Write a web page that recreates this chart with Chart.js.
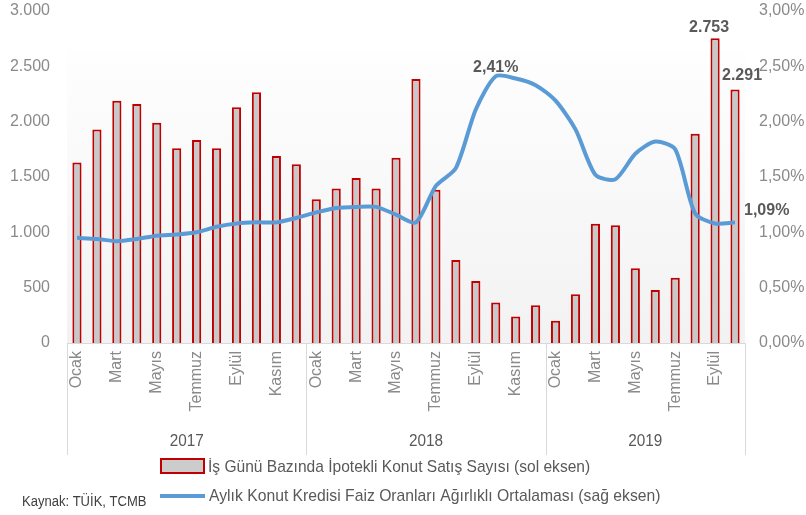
<!DOCTYPE html>
<html>
<head>
<meta charset="utf-8">
<script src="https://cdn.jsdelivr.net/npm/chart.js@4.4.1/dist/chart.umd.min.js"></script>
<style>
  html, body { margin: 0; padding: 0; background: #fff; }
</style>
</head>
<body>
<canvas id="chart" width="806" height="515"></canvas>
<script>
// data
var monthNames = ['Ocak', 'Şubat', 'Mart', 'Nisan', 'Mayıs', 'Haziran', 'Temmuz', 'Ağustos', 'Eylül', 'Ekim', 'Kasım', 'Aralık'];
var years = ['2017', '2018', '2019'];
var monthsPerYear = [12, 12, 10];

// İş günü bazında ipotekli konut satış sayısı (sol eksen)
var salesCount = [1630, 1930, 2190, 2160, 1990, 1760, 1835, 1760, 2130, 2265, 1690, 1615,
                  1300, 1395, 1490, 1395, 1675, 2385, 1385, 750, 560, 365, 240, 340,
                  200, 440, 1078, 1065, 675, 480, 590, 1890, 2753, 2291];
// Aylık konut kredisi faiz oranları ağırlıklı ortalaması, % (sağ eksen)
var loanRate = [0.95, 0.94, 0.92, 0.94, 0.97, 0.98, 1.00, 1.05, 1.08, 1.09, 1.09, 1.13,
                1.18, 1.22, 1.23, 1.23, 1.16, 1.09, 1.42, 1.58, 2.11, 2.41, 2.39, 2.33,
                2.19, 1.93, 1.52, 1.48, 1.71, 1.82, 1.75, 1.17, 1.08, 1.09];

var leftTicks = { min: 0, max: 3000, step: 500 };
var rightTicks = { min: 0, max: 3, step: 0.5 };

// which points get a value label
var barLabels = [32, 33];
var lineLabels = [21, 33];

var legendNames = ['İş Günü Bazında İpotekli Konut Satış Sayısı (sol eksen)',
                   'Aylık Konut Kredisi Faiz Oranları Ağırlıklı Ortalaması (sağ eksen)'];
var sourceText = 'Kaynak: TÜİK, TCMB';

// build category labels
var labels = [];
var yearOf = [];
years.forEach(function (y, yi) {
    for (var m = 0; m < monthsPerYear[yi]; m++) {
        labels.push(monthNames[m]);
        yearOf.push(yi);
    }
});

function fmtThousand(v) {
    return String(Math.round(v)).replace(/\B(?=(\d{3})+(?!\d))/g, '.');
}
function fmtPct(v) {
    return v.toFixed(2).replace('.', ',') + '%';
}

var FONT = "'Liberation Sans', 'DejaVu Sans', sans-serif";
var tickGray = '#8a8a8a';
var textDark = '#595959';

// narrow-looking text (calibri-ish) by squeezing horizontally
function narrowText(ctx, txt, x, y, squeeze, align) {
    ctx.save();
    ctx.translate(x, y);
    ctx.scale(squeeze, 1);
    ctx.textAlign = align || 'left';
    ctx.fillText(txt, 0, 0);
    ctx.restore();
}

var decor = {
    id: 'decor',
    beforeDatasetsDraw: function (chart) {
        var ctx = chart.ctx, a = chart.chartArea;
        var top = a.top + 39;
        var g = ctx.createLinearGradient(0, top, 0, a.bottom);
        g.addColorStop(0, '#fefefe');
        g.addColorStop(1, '#f2f2f2');
        ctx.save();
        ctx.fillStyle = g;
        ctx.fillRect(a.left, top, a.right - a.left, a.bottom - top);
        ctx.restore();
    },
    afterDraw: function (chart) {
        var ctx = chart.ctx, a = chart.chartArea;
        var slot = (a.right - a.left) / labels.length;
        ctx.save();

        // year separators and year names
        ctx.strokeStyle = '#d9d9d9';
        ctx.lineWidth = 1;
        var start = 0;
        ctx.beginPath();
        ctx.moveTo(Math.round(a.left) + 0.5, a.bottom);
        ctx.lineTo(Math.round(a.left) + 0.5, a.bottom + 112);
        ctx.stroke();
        ctx.fillStyle = textDark;
        ctx.font = '17px ' + FONT;
        ctx.textBaseline = 'middle';
        years.forEach(function (y, yi) {
            var end = start + monthsPerYear[yi];
            var x0 = a.left + start * slot, x1 = a.left + end * slot;
            if (yi === years.length - 1) x1 = a.right;
            ctx.beginPath();
            ctx.moveTo(Math.round(x1) + 0.5, a.bottom);
            ctx.lineTo(Math.round(x1) + 0.5, a.bottom + 112);
            ctx.stroke();
            narrowText(ctx, y, (x0 + x1) / 2, a.bottom + 98, 0.9, 'center');
            start = end;
        });

        // value labels
        ctx.font = 'bold 16px ' + FONT;
        ctx.fillStyle = textDark;
        var barMeta = chart.getDatasetMeta(0), lineMeta = chart.getDatasetMeta(1);
        barLabels.forEach(function (i, k) {
            var el = barMeta.data[i];
            var dx = k === 0 ? -6 : 7;
            var dy = k === 0 ? -11 : -14;
            ctx.textAlign = 'center';
            ctx.fillText(fmtThousand(salesCount[i]), el.x + dx, el.y + dy);
        });
        lineLabels.forEach(function (i, k) {
            var el = lineMeta.data[i];
            if (k === 0) {
                ctx.textAlign = 'center';
                ctx.fillText(fmtPct(loanRate[i]), el.x, el.y - 9);
            } else {
                ctx.textAlign = 'left';
                ctx.fillText(fmtPct(loanRate[i]), el.x + 9, el.y - 12);
            }
        });

        // legend
        ctx.fillStyle = '#cccccc';
        ctx.fillRect(161, 459, 43, 14);
        ctx.strokeStyle = '#c00000';
        ctx.lineWidth = 2;
        ctx.strokeRect(161, 459, 43, 14);
        ctx.strokeStyle = '#5b9bd5';
        ctx.lineWidth = 4;
        ctx.beginPath();
        ctx.moveTo(160, 496);
        ctx.lineTo(205, 496);
        ctx.stroke();
        ctx.fillStyle = textDark;
        ctx.font = '17px ' + FONT;
        narrowText(ctx, legendNames[0], 208, 467, 0.915);
        narrowText(ctx, legendNames[1], 209, 496, 0.925);
        ctx.font = '14px ' + FONT;
        ctx.fillStyle = '#404040';
        narrowText(ctx, sourceText, 22, 502, 0.93);
        ctx.restore();
    }
};

new Chart(document.getElementById('chart'), {
    type: 'bar',
    data: {
        labels: labels,
        datasets: [
            {
                type: 'bar',
                label: legendNames[0],
                data: salesCount,
                yAxisID: 'y',
                backgroundColor: '#c8c8c8',
                borderColor: '#c00000',
                borderWidth: 2,
                borderSkipped: 'bottom',
                barPercentage: 0.46,
                categoryPercentage: 1,
                order: 2
            },
            {
                type: 'line',
                label: legendNames[1],
                data: loanRate,
                yAxisID: 'y1',
                borderColor: '#5b9bd5',
                borderWidth: 4,
                pointRadius: 0,
                tension: 0.25,
                fill: false,
                order: 1
            }
        ]
    },
    options: {
        responsive: false,
        animation: false,
        layout: { padding: { top: 11, left: 0, right: 0, bottom: 0 } },
        plugins: {
            legend: { display: false },
            tooltip: { enabled: false }
        },
        scales: {
            x: {
                offset: true,
                grid: { display: false, drawTicks: false },
                border: { display: true, color: '#d9d9d9' },
                ticks: {
                    autoSkip: false,
                    minRotation: 90,
                    maxRotation: 90,
                    padding: 8,
                    color: tickGray,
                    font: { family: FONT, size: 16 },
                    callback: function (v, i) {
                        var start = 0;
                        for (var yi = 0; yi < yearOf[i]; yi++) start += monthsPerYear[yi];
                        return (i - start) % 2 === 0 ? labels[i] : '';
                    }
                },
                afterFit: function (s) { s.height = 172; s.paddingLeft = 0; s.paddingRight = 0; }
            },
            y: {
                position: 'left',
                min: leftTicks.min,
                max: leftTicks.max,
                grid: { display: false, drawTicks: false },
                border: { display: false },
                ticks: {
                    stepSize: leftTicks.step,
                    padding: 17,
                    color: tickGray,
                    font: { family: FONT, size: 16 },
                    callback: function (v) { return fmtThousand(v); }
                },
                afterFit: function (s) { s.width = 67; s.paddingTop = 0; s.paddingBottom = 0; }
            },
            y1: {
                position: 'right',
                min: rightTicks.min,
                max: rightTicks.max,
                grid: { display: false, drawTicks: false },
                border: { display: false },
                ticks: {
                    stepSize: rightTicks.step,
                    padding: 14,
                    color: tickGray,
                    font: { family: FONT, size: 16 },
                    callback: function (v) { return fmtPct(v); }
                },
                afterFit: function (s) { s.width = 61; s.paddingTop = 0; s.paddingBottom = 0; }
            }
        }
    },
    plugins: [decor]
});
</script>
</body>
</html>
